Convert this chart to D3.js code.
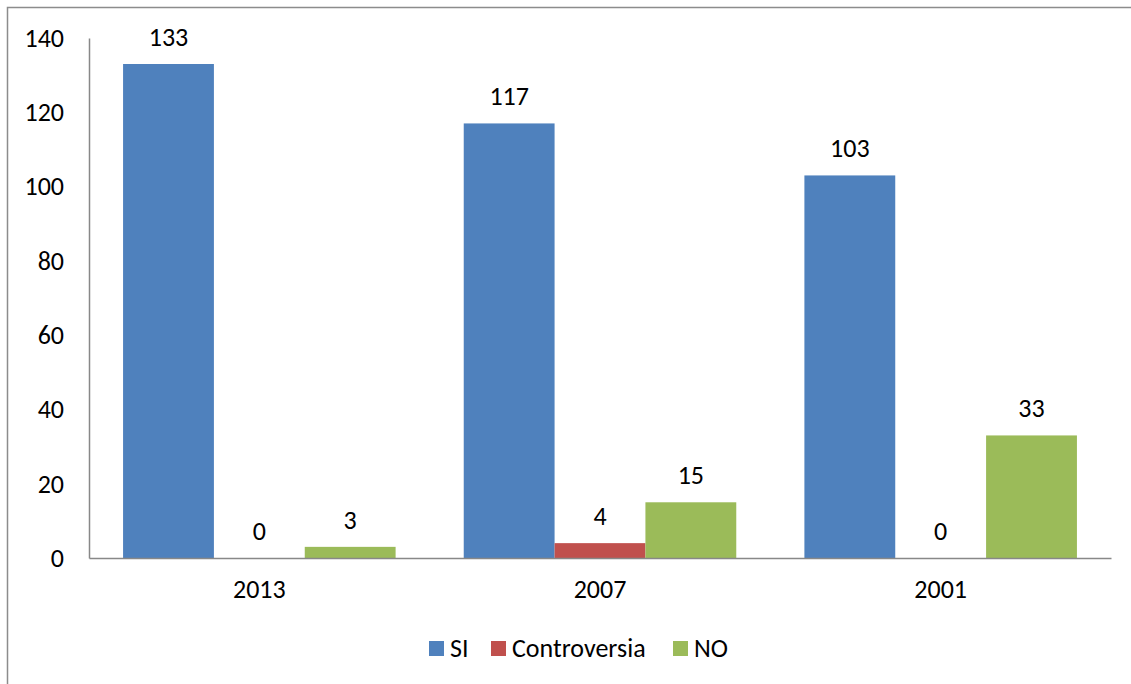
<!DOCTYPE html>
<html><head><meta charset="utf-8">
<script src="https://cdn.jsdelivr.net/npm/d3@7"></script>
<style>
body{margin:0;background:#fff;}
text{font-family:Carlito,Calibri,"Open Sans",sans-serif;fill:#000;}
</style></head>
<body><svg id="c" width="1131" height="684"></svg>
<script>
const categories = ["2013","2007","2001"];
const seriesNames = ["SI","Controversia","NO"];
const SI = [133,117,103];
const Controversia = [0,4,0];
const NO = [3,15,33];
const yTicks = [0,20,40,60,80,100,120,140];
const colors = ["#4F81BD","#C0504D","#9BBB59"];

(function(){
const FS = "26px";
const svg = d3.select("#c");
svg.append("rect").attr("x",7.5).attr("y",7.5).attr("width",1140).attr("height",700)
  .attr("fill","none").attr("stroke","#8c8c8c").attr("stroke-width",1.5);

const pL=89, pR=1111, pT=38, pB=558;
const x0 = d3.scaleBand().domain(categories).range([pL,pR]).paddingInner(0.2).paddingOuter(0.1);
const x1 = d3.scaleBand().domain(seriesNames).range([0,x0.bandwidth()]);
const y = d3.scaleLinear().domain([0,140]).range([pB,pT]);

const data = [SI,Controversia,NO];

const ya = svg.append("g").attr("transform",`translate(${pL},0)`)
  .call(d3.axisLeft(y).tickValues(yTicks).tickSize(0).tickPadding(25));
ya.select(".domain").attr("stroke","#888").attr("stroke-width",1.5);
ya.selectAll("text").style("font-size",FS).attr("fill","#000");

seriesNames.forEach((s,si)=>{
  const g = svg.append("g");
  g.selectAll("rect").data(categories).join("rect")
    .attr("x",c=>x0(c)+x1(s))
    .attr("y",(c,i)=>y(data[si][i]))
    .attr("width",x1.bandwidth())
    .attr("height",(c,i)=>pB-y(data[si][i]))
    .attr("fill",colors[si]);
  g.selectAll("text").data(categories).join("text")
    .attr("x",c=>x0(c)+x1(s)+x1.bandwidth()/2)
    .attr("y",(c,i)=>y(data[si][i])-27)
    .attr("text-anchor","middle").attr("dominant-baseline","central")
    .style("font-size",FS)
    .text((c,i)=>data[si][i]);
});

const xa = svg.append("g").attr("transform",`translate(0,${pB})`)
  .call(d3.axisBottom(x0).tickSize(0).tickPadding(22).tickSizeOuter(0));
xa.select(".domain").attr("stroke","#888").attr("stroke-width",1.5);
xa.selectAll("text").style("font-size",FS).attr("fill","#000");

const legX = [429,491,673];
const lg = svg.append("g");
seriesNames.forEach((s,i)=>{
  lg.append("rect").attr("x",legX[i]).attr("y",641).attr("width",15).attr("height",15).attr("fill",colors[i]);
  lg.append("text").attr("x",legX[i]+21).attr("y",648).attr("dominant-baseline","central")
    .style("font-size",FS).text(s);
});
})();
</script></body></html>
